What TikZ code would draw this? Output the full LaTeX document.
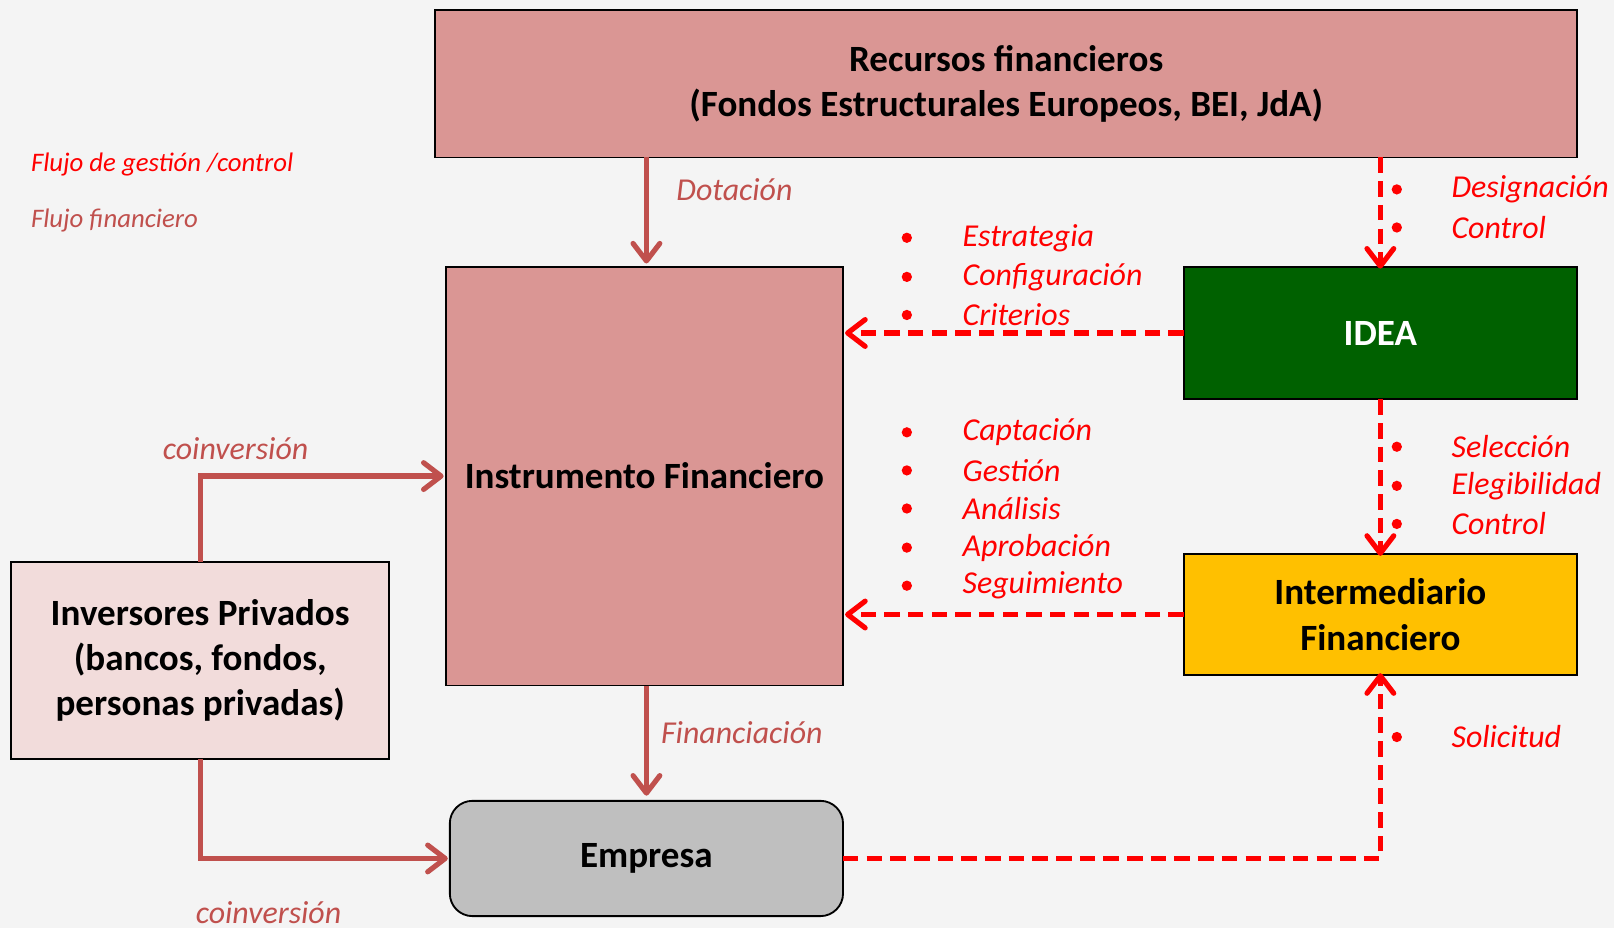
\documentclass[tikz,border=0pt]{standalone}
\usepackage{fontspec}
\setmainfont{Carlito}
\usetikzlibrary{arrows.meta}

\definecolor{boxrose}{HTML}{DA9694}
\definecolor{boxpale}{HTML}{F2DCDB}
\definecolor{boxgreen}{HTML}{006100}
\definecolor{boxgold}{HTML}{FFC000}
\definecolor{boxgray}{HTML}{BFBFBF}
\definecolor{finred}{HTML}{C0504D}
\definecolor{ctrlred}{HTML}{FF0000}
\definecolor{bggray}{HTML}{F4F4F4}

\tikzset{
  block/.style={shape=rectangle, draw=black, line width=1.8pt, inner sep=0pt, outer sep=0pt,
    align=center, font=\fontsize{36}{44}\selectfont\bfseries},
  finflow/.style={draw=finred, line width=5pt,
    -{Straight Barb[length=17pt, width=26pt, line cap=round, line join=round]}},
  ctrlflow/.style={draw=ctrlred, line width=5pt, dash pattern=on 15pt off 8pt,
    -{Straight Barb[length=17pt, width=26pt, line cap=round, line join=round]}},
  finlabel/.style={anchor=west, inner sep=0pt, text=finred, font=\fontsize{31}{37}\selectfont\itshape},
  ctrllabel/.style={anchor=west, inner sep=0pt, text=ctrlred, font=\fontsize{31}{37}\selectfont\itshape},
  legendlabel/.style={anchor=west, inner sep=0pt, font=\fontsize{26}{31}\selectfont\itshape},
  dot/.style={fill=ctrlred}
}

\begin{document}
\begin{tikzpicture}[x=1pt, y=-1pt]

	\fill[bggray] (0, 0) rectangle (1568, 901.6);
	\useasboundingbox (0, 0) rectangle (1568, 901.6);

	% boxes
	\node[block, fill=boxrose, minimum width=1109pt, minimum height=143pt] (recursos) at (977.5, 81.5)
		{Recursos financieros\\(Fondos Estructurales Europeos, BEI, JdA)};
	\node[block, fill=boxrose, minimum width=386pt, minimum height=407pt] (instrumento) at (626, 462.5)
		{Instrumento Financiero};
	\node[block, fill=boxgreen, text=white, minimum width=382pt, minimum height=129pt] (idea) at (1341, 323.5)
		{IDEA};
	\node[block, fill=boxgold, minimum width=382pt, minimum height=118pt] (intermediario) at (1341, 597)
		{Intermediario\\Financiero};
	\node[block, fill=boxpale, minimum width=367pt, minimum height=191pt] (inversores) at (194.5, 641.5)
		{Inversores Privados\\(bancos, fondos,\\personas privadas)};
	\node[block, fill=boxgray, rounded corners=22pt, minimum width=382pt, minimum height=112pt] (empresa) at (628, 834)
		{Empresa};

	% legend
	\node[legendlabel, text=ctrlred] (leyendactrl) at (30, 160) {Flujo de gestión /control};
	\node[legendlabel, text=finred] (leyendafin) at (30, 214) {Flujo financiero};

	% financial flows
	\draw[finflow] (recursos.south -| 628, 0) -- (628, 256);
	\draw[finflow] (instrumento.south -| 628, 0) -- (628, 773);
	\draw[finflow] (inversores.north) |- ([xshift=-2pt]instrumento.west);
	\draw[finflow] (inversores.south) |- ([xshift=-2pt]empresa.west);

	\node[finlabel] (dotacion) at (657, 184) {Dotación};
	\node[finlabel] (financiacion) at (642, 712) {Financiación};
	\node[finlabel] (coinvsup) at (158, 436) {coinversión};
	\node[finlabel] (coinvinf) at (190, 887) {coinversión};

	% control flows
	\draw[ctrlflow] (recursos.south -| idea.north) -- ([yshift=-2pt]idea.north);
	\draw[ctrlflow] (idea.west) -- ([xshift=2pt]idea.west -| instrumento.east);
	\draw[ctrlflow] (idea.south) -- ([yshift=-2pt]intermediario.north);
	\draw[ctrlflow] (intermediario.west) -- ([xshift=2pt]intermediario.west -| instrumento.east);
	\draw[ctrlflow] (empresa.east) -| ([yshift=2pt]intermediario.south);

	% bullet lists
	\foreach \y/\txt in {184/Designación, 221/Control} {
		\fill[dot] (1357, \y) circle (5pt);
		\node[ctrllabel] at (1410, \y) {\txt};
	}
	\foreach \y/\txt in {231/Estrategia, 269/Configuración, 306/Criterios} {
		\fill[dot] (881, \y) circle (5pt);
		\node[ctrllabel] at (935, \y) {\txt};
	}
	\foreach \y/\txt in {434/Selección, 472/Elegibilidad, 509/Control} {
		\fill[dot] (1357, \y) circle (5pt);
		\node[ctrllabel] at (1410, \y) {\txt};
	}
	\foreach \y/\txt in {420/Captación, 457/Gestión, 494/Análisis, 532/Aprobación, 569/Seguimiento} {
		\fill[dot] (881, \y) circle (5pt);
		\node[ctrllabel] at (935, \y) {\txt};
	}
	\fill[dot] (1357, 716) circle (5pt);
	\node[ctrllabel] (solicitud) at (1410, 716) {Solicitud};

\end{tikzpicture}
\end{document}
